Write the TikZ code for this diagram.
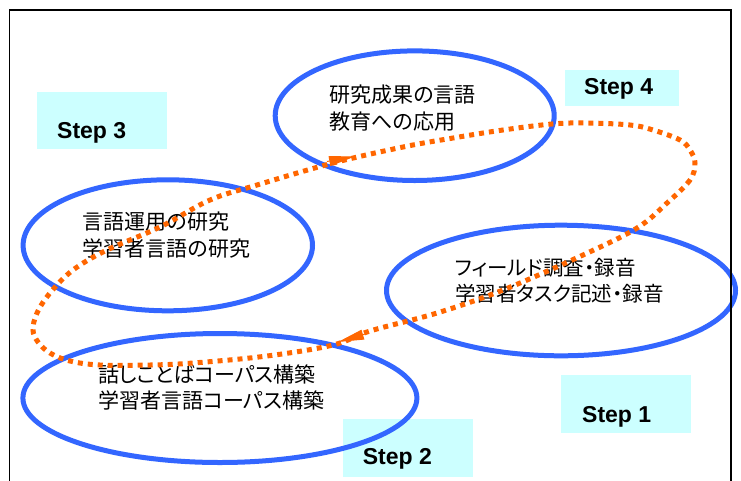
\documentclass[tikz,border=0pt]{standalone}
\usepackage{fontspec}
\setmainfont{Liberation Sans}
\newfontfamily\jp{Noto Sans CJK JP}[RawFeature=+palt]
\usetikzlibrary{arrows.meta,shapes.geometric}
\definecolor{stepcyan}{HTML}{CCFFFF}
\definecolor{ringblue}{HTML}{3366FF}
\definecolor{looporange}{HTML}{FF6600}
\tikzset{
  ring/.style={ellipse,draw=ringblue,line width=5pt,inner sep=0pt},
  stepbox/.style={rectangle,fill=stepcyan,draw=none,inner sep=0pt},
  steplabel/.style={inner sep=0pt,font=\bfseries\fontsize{23}{27}\selectfont},
  jptext/.style={inner sep=0pt,align=left,font=\jp\fontsize{21}{27}\selectfont},
  loopline/.style={draw=looporange,line width=5pt,dash pattern=on 5pt off 5pt},
  looparrow/.style={draw=looporange,line width=1pt,-{Triangle[length=26pt,width=10pt]}}
}
\begin{document}
\begin{tikzpicture}[x=1pt,y=-1pt]
\useasboundingbox (0,0) rectangle (741,480);
\fill[white] (0,0) rectangle (741,480);
% step boxes
\node[stepbox,minimum width=114pt,minimum height=36pt] (b4) at (622,88) {};
\node[stepbox,minimum width=130pt,minimum height=57.6pt] (b3) at (101.7,120.5) {};
\node[stepbox,minimum width=130pt,minimum height=58pt] (b1) at (626,404) {};
\node[stepbox,minimum width=130pt,minimum height=58pt] (b2) at (407.7,448) {};
% ellipses
\node[ring,minimum width=279pt,minimum height=129.6pt] (e4) at (414.7,115.7) {};
\node[ring,minimum width=289.4pt,minimum height=131pt] (e3) at (167.8,245.3) {};
\node[ring,minimum width=349pt,minimum height=130.6pt] (e1) at (561,290.5) {};
\node[ring,minimum width=394pt,minimum height=129pt] (e2) at (219.9,398) {};
% frame
\draw[line width=1.6pt] (9.5,495) -- (9.5,10) -- (731,10) -- (731,495);
% texts
\node[jptext,anchor=west] (t4) at (329.3,108) {研究成果の言語\\教育への応用};
\node[jptext,anchor=west] (t3) at (82.7,235.5) {言語運用の研究\\学習者言語の研究};
\node[jptext,anchor=west,font=\jp\fontsize{20.5}{25.5}\selectfont] (t1) at (455,280.5) {フィールド調査・録音\\学習者タスク記述・録音};
\node[jptext,anchor=west,font=\jp\fontsize{21}{25.5}\selectfont] (t2) at (98,387.5) {話しことばコーパス構築\\学習者言語コーパス構築};
% step labels
\node[steplabel,anchor=base west] (s4) at (584,94.3) {Step 4};
\node[steplabel,anchor=base west] (s3) at (57,138.7) {Step 3};
\node[steplabel,anchor=base west] (s1) at (582,422.7) {Step 1};
\node[steplabel,anchor=base west] (s2) at (362.7,464) {Step 2};
% loop
\draw[loopline] plot[smooth cycle,tension=0.6] coordinates {
 (695,163) (690,180) (667,203) (637,228) (583,255) (503,290) (437,313) (370,331)
 (333,345) (267,356) (193,363) (150,365) (100,365) (70,361) (50,353) (38,342) (33,330)
 (37,313) (50,293) (73,270) (107,250) (160,227) (210,200) (257,185) (333,163)
 (403,147) (453,138) (503,130) (552,124) (587,123) (630,125) (653,130) (680,140) (690,150)};
\coordinate (a4s) at (327,161.5);
\coordinate (a4e) at (355,156.5);
\coordinate (a1s) at (365,334);
\coordinate (a1e) at (338,342);
\draw[looparrow] (a4s) -- (a4e);
\draw[looparrow] (a1s) -- (a1e);
\end{tikzpicture}
\end{document}
